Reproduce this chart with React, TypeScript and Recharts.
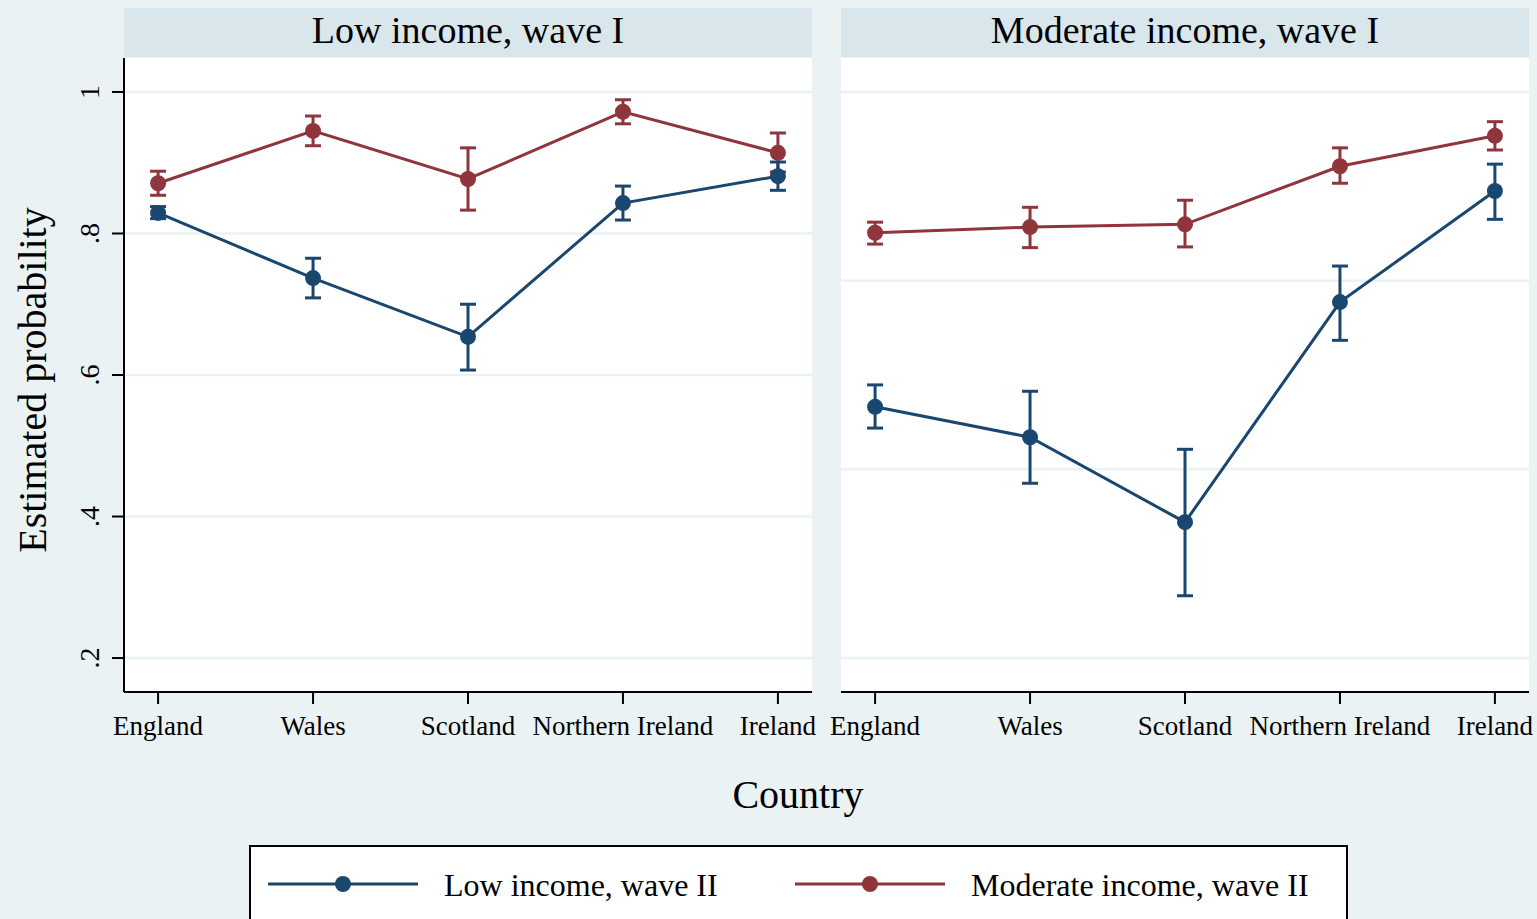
import React from 'react';
import { LineChart, Line, XAxis, YAxis, CartesianGrid, ErrorBar } from 'recharts';

const countries = ['England', 'Wales', 'Scotland', 'Northern Ireland', 'Ireland'];
const panelTitles = ['Low income, wave I', 'Moderate income, wave I'];
const seriesNames = ['Low income, wave II', 'Moderate income, wave II'];
const yTicks = [0.2, 0.4, 0.6, 0.8, 1];
const rightGridValues = [0.2, 0.4667, 0.7333, 1];

// panel 1: low income, wave I
const lowP1 = [0.829, 0.737, 0.654, 0.843, 0.881];
const lowP1Lo = [0.821, 0.709, 0.607, 0.819, 0.861];
const lowP1Hi = [0.838, 0.765, 0.7, 0.867, 0.901];
const modP1 = [0.871, 0.945, 0.877, 0.972, 0.914];
const modP1Lo = [0.854, 0.924, 0.833, 0.955, 0.887];
const modP1Hi = [0.888, 0.966, 0.921, 0.989, 0.942];

// panel 2: moderate income, wave I
const lowP2 = [0.555, 0.512, 0.392, 0.703, 0.86];
const lowP2Lo = [0.525, 0.447, 0.288, 0.649, 0.82];
const lowP2Hi = [0.586, 0.577, 0.495, 0.754, 0.898];
const modP2 = [0.801, 0.809, 0.813, 0.895, 0.938];
const modP2Lo = [0.785, 0.78, 0.781, 0.871, 0.918];
const modP2Hi = [0.816, 0.837, 0.847, 0.921, 0.958];

const BLUE = '#1a476f';
const RED = '#90353b';
const BG = '#eaf2f3';
const STRIP = '#d9e6eb';
const FONT = '"Liberation Serif", "Times New Roman", serif';

const buildRows = (low: number[], lowLo: number[], lowHi: number[], mod: number[], modLo: number[], modHi: number[]) =>
    countries.map((c, i) => ({
        x: i + 1,
        low: low[i],
        lowErr: [low[i] - lowLo[i], lowHi[i] - low[i]],
        mod: mod[i],
        modErr: [mod[i] - modLo[i], modHi[i] - mod[i]],
    }));

const panel1 = buildRows(lowP1, lowP1Lo, lowP1Hi, modP1, modP1Lo, modP1Hi);
const panel2 = buildRows(lowP2, lowP2Lo, lowP2Hi, modP2, modP2Lo, modP2Hi);

const fmtY = (v: number) => (v === 1 ? '1' : String(v).replace(/^0/, ''));

const YTick = (props: any) => {
    const { x, y, payload } = props;
    return (
        <text x={x} y={y} transform={`rotate(-90, ${x}, ${y})`} textAnchor="middle" fontFamily={FONT} fontSize={28} fill="#000">
            {fmtY(payload.value)}
        </text>
    );
};

const XTick = (props: any) => {
    const { x, y, payload } = props;
    return (
        <text x={x} y={y} dy={29} textAnchor="middle" fontFamily={FONT} fontSize={27} fill="#000">
            {countries[payload.value - 1]}
        </text>
    );
};

const Panel: React.FC<{ data: any[]; showY: boolean }> = ({ data, showY }) => (
    <LineChart
        width={showY ? 822 : 716}
        height={694}
        data={data}
        margin={{ top: 0, right: showY ? 10 : 8, bottom: 0, left: showY ? 0 : 20 }}
    >
        <CartesianGrid
            vertical={false}
            fill="#ffffff"
            stroke={BG}
            strokeWidth={2.5}
            horizontalValues={showY ? yTicks : rightGridValues}
        />
        <XAxis
            dataKey="x"
            type="number"
            domain={[0.78, 5.22]}
            ticks={[1, 2, 3, 4, 5]}
            height={60}
            tickSize={12}
            tickMargin={2}
            stroke="#000"
            strokeWidth={2}
            tick={<XTick />}
            interval={0}
        />
        <YAxis
            type="number"
            domain={[0.152, 1.048]}
            ticks={yTicks}
            width={124}
            hide={!showY}
            tickSize={12}
            tickMargin={13}
            stroke="#000"
            strokeWidth={2}
            tick={<YTick />}
            allowDataOverflow
        />
        <Line dataKey="mod" stroke={RED} strokeWidth={3} isAnimationActive={false}
            dot={{ r: 8, fill: RED, stroke: 'none' }} activeDot={false}>
            <ErrorBar dataKey="modErr" width={8} stroke={RED} strokeWidth={3} isAnimationActive={false} />
        </Line>
        <Line dataKey="low" stroke={BLUE} strokeWidth={3} isAnimationActive={false}
            dot={{ r: 8, fill: BLUE, stroke: 'none' }} activeDot={false}>
            <ErrorBar dataKey="lowErr" width={8} stroke={BLUE} strokeWidth={3} isAnimationActive={false} />
        </Line>
    </LineChart>
);

const stripStyle: React.CSSProperties = {
    position: 'absolute',
    top: 8,
    height: 49,
    width: 688,
    background: STRIP,
    fontFamily: FONT,
    fontSize: 38,
    lineHeight: '44px',
    textAlign: 'center',
    color: '#000',
};

export default function App() {
    return (
        <div style={{ position: 'absolute', left: 0, top: 0, width: 1537, height: 919, background: BG, overflow: 'hidden' }}>
            <div style={{ ...stripStyle, left: 124 }}>{panelTitles[0]}</div>
            <div style={{ ...stripStyle, left: 841 }}>{panelTitles[1]}</div>

            <div style={{ position: 'absolute', left: 0, top: 58 }}>
                <Panel data={panel1} showY />
            </div>
            <div style={{ position: 'absolute', left: 821, top: 58 }}>
                <Panel data={panel2} showY={false} />
            </div>

            <svg width={1537} height={919} style={{ position: 'absolute', left: 0, top: 0, pointerEvents: 'none' }}>
                <text x={46} y={380} transform="rotate(-90, 46, 380)" textAnchor="middle" fontFamily={FONT} fontSize={40} fill="#000">
                    Estimated probability
                </text>
                <text x={798} y={808} textAnchor="middle" fontFamily={FONT} fontSize={40} fill="#000">
                    Country
                </text>
                <rect x={250} y={846} width={1097} height={100} fill="#fff" stroke="#000" strokeWidth={2} />
                {seriesNames.map((name, i) => {
                    const x0 = i === 0 ? 268 : 795;
                    const color = i === 0 ? BLUE : RED;
                    return (
                        <g key={name}>
                            <line x1={x0} y1={884} x2={x0 + 150} y2={884} stroke={color} strokeWidth={3} />
                            <circle cx={x0 + 75} cy={884} r={8} fill={color} />
                            <text x={x0 + 176} y={896} fontFamily={FONT} fontSize={32} fill="#000">
                                {name}
                            </text>
                        </g>
                    );
                })}
            </svg>
        </div>
    );
}
